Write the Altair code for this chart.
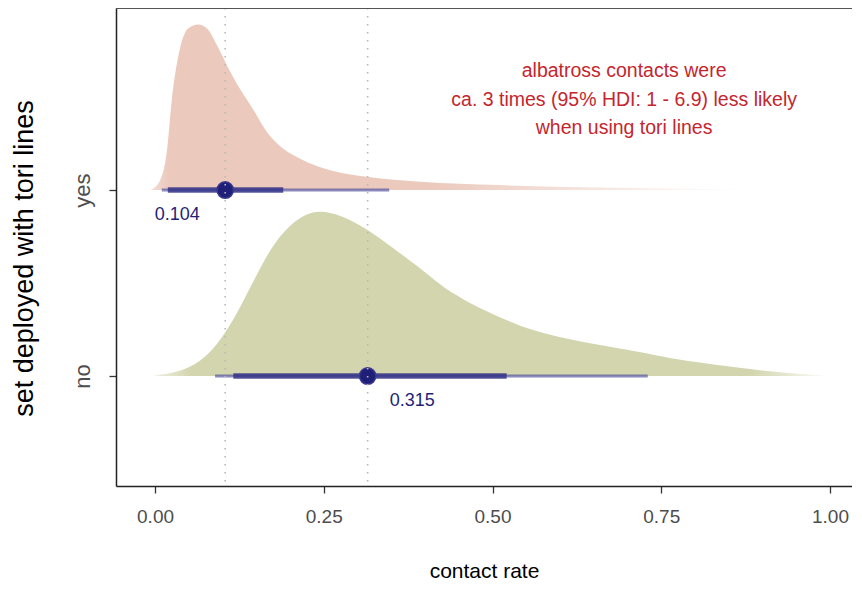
import altair as alt
import pandas as pd

# ---- data ----
groups = ["no", "yes"]
group_pos = [1, 2]

yes_x = [-0.007, 0.007, 0.018, 0.025, 0.037, 0.049, 0.064, 0.077, 0.092, 0.107, 0.126,
         0.145, 0.166, 0.19, 0.215, 0.264, 0.314, 0.393, 0.511, 0.659, 0.807, 0.907]
yes_d = [0, 0.055, 0.25, 0.55, 0.855, 0.976, 1.0, 0.976, 0.873, 0.75, 0.61,
         0.49, 0.35, 0.25, 0.19, 0.115, 0.08, 0.05, 0.03, 0.015, 0.007, 0]

no_x = [-0.007, 0.041, 0.077, 0.104, 0.126, 0.151, 0.175, 0.2, 0.225, 0.244, 0.274, 0.314,
        0.353, 0.393, 0.422, 0.456, 0.501, 0.56, 0.634, 0.723, 0.767, 0.856, 0.93, 1.004]
no_d = [0, 0.024, 0.114, 0.257, 0.413, 0.617, 0.796, 0.916, 0.982, 1.0, 0.976, 0.892,
        0.772, 0.653, 0.550, 0.462, 0.372, 0.268, 0.204, 0.144, 0.102, 0.054, 0.018, 0]

# point intervals (order: no, yes)
point_est = [0.315, 0.104]
lo95 = [0.089, 0.010]
hi95 = [0.730, 0.347]
lo66 = [0.116, 0.019]
hi66 = [0.521, 0.190]
point_labels = ["0.315", "0.104"]
label_x = [0.381, 0.033]

ref_lines = [0.104, 0.315]
note_lines = ["albatross contacts were",
              "ca. 3 times (95% HDI: 1 - 6.9) less likely",
              "when using tori lines"]

SCALE = 0.89
W, H = 736, 478
XDOM = [-0.0578, 1.0326]
YDOM = [0.409, 2.979]

yes_df = pd.DataFrame({"x": yes_x, "base": 2.0,
                       "top": [2 + d * SCALE for d in yes_d]})
no_df = pd.DataFrame({"x": no_x, "base": 1.0,
                      "top": [1 + d * SCALE for d in no_d]})
iv_df = pd.DataFrame({"group": groups, "pos": group_pos, "est": point_est,
                      "lo95": lo95, "hi95": hi95, "lo66": lo66, "hi66": hi66,
                      "lab": point_labels, "lab_x": label_x})
ref_df = pd.DataFrame({"x": ref_lines})
note_df = pd.DataFrame({"x": [0.695], "y": [2.640], "t": [note_lines]})

xscale = alt.Scale(domain=XDOM, nice=False, zero=False)
yscale = alt.Scale(domain=YDOM, nice=False, zero=False)

x_axis = alt.Axis(values=[0, 0.25, 0.5, 0.75, 1.0], format=".2f", grid=False,
                  title="contact rate", labelFont="Liberation Sans Narrow, Liberation Sans",
                  labelFontSize=19, labelColor="#4d4d4d", labelPadding=14,
                  tickSize=7, tickColor="#333333", tickWidth=1.3,
                  domainColor="#222222", domainWidth=1.5,
                  titleFont="Liberation Sans Narrow, Liberation Sans", titleFontSize=21,
                  titleFontWeight="normal", titleColor="#000000",
                  titleY=85, titleBaseline="middle")
y_axis = alt.Axis(values=[1, 2], labelExpr="datum.value == 2 ? 'yes' : 'no'",
                  grid=False, title="set deployed with tori lines",
                  labelFont="Liberation Sans", labelFontSize=22, labelColor="#4d4d4d",
                  labelAngle=270, labelAlign="center", labelBaseline="bottom",
                  labelPadding=15, tickSize=7, tickColor="#333333", tickWidth=1.3,
                  domainColor="#222222", domainWidth=1.5,
                  titleFont="Liberation Sans", titleFontSize=27, titleFontWeight="normal",
                  titleColor="#000000", titleAngle=270, titleAlign="center",
                  titleBaseline="middle", titleX=-92, titleY=250)

yes_grad = alt.Gradient(gradient="linear", x1=0, x2=1, y1=0, y2=0,
                        stops=[alt.GradientStop(offset=0, color="#f3ddd5"),
                               alt.GradientStop(offset=0.03, color="#ebc9bd"),
                               alt.GradientStop(offset=0.45, color="#ebc9bd"),
                               alt.GradientStop(offset=0.85, color="#fbf3f1"),
                               alt.GradientStop(offset=1, color="#ffffff")])
no_grad = alt.Gradient(gradient="linear", x1=0, x2=1, y1=0, y2=0,
                       stops=[alt.GradientStop(offset=0, color="#f1f2e6"),
                              alt.GradientStop(offset=0.06, color="#d3d5ae"),
                              alt.GradientStop(offset=0.88, color="#d3d5ae"),
                              alt.GradientStop(offset=1, color="#ffffff")])

yes_area = alt.Chart(yes_df).mark_area(interpolate="monotone", color=yes_grad).encode(
    x=alt.X("x:Q", scale=xscale, axis=x_axis),
    y=alt.Y("top:Q", scale=yscale, axis=y_axis),
    y2="base:Q")
no_area = alt.Chart(no_df).mark_area(interpolate="basis", color=no_grad).encode(
    x=alt.X("x:Q", scale=xscale),
    y=alt.Y("top:Q", scale=yscale),
    y2="base:Q")

base_iv = alt.Chart(iv_df)
thin = base_iv.mark_rule(color="#4b4b9c", opacity=0.65, strokeWidth=3).encode(
    x=alt.X("lo95:Q", scale=xscale), x2="hi95:Q", y=alt.Y("pos:Q", scale=yscale))
thick = base_iv.mark_rule(color="#2e2e86", opacity=0.8, strokeWidth=5.5).encode(
    x=alt.X("lo66:Q", scale=xscale), x2="hi66:Q", y=alt.Y("pos:Q", scale=yscale))
pts = base_iv.mark_point(filled=True, shape="circle", size=270, color="#1f1f78",
                         opacity=1, stroke="#3a3a90", strokeWidth=1.5).encode(
    x=alt.X("est:Q", scale=xscale), y=alt.Y("pos:Q", scale=yscale))
labs = base_iv.mark_text(font="Liberation Sans", fontSize=18, color="#1f1f78",
                         dy=25).encode(
    x=alt.X("lab_x:Q", scale=xscale), y=alt.Y("pos:Q", scale=yscale), text="lab:N")

refs = alt.Chart(ref_df).mark_rule(color="#b8b8b8", strokeWidth=1.6,
                                   strokeDash=[1.6, 6.4]).encode(
    x=alt.X("x:Q", scale=xscale))

note = alt.Chart(note_df).mark_text(font="Liberation Sans", fontSize=19.5, color="#c4262e",
                                    lineHeight=28.5, align="center",
                                    baseline="middle").encode(
    x=alt.X("x:Q", scale=xscale), y=alt.Y("y:Q", scale=yscale), text="t")

top_border = alt.Chart(pd.DataFrame({"a": [0]})).mark_rule(
    color="#555555", strokeWidth=1.8).encode(y=alt.value(0), x=alt.value(0), x2=alt.value(W))

chart = alt.layer(yes_area, no_area, thin, thick, pts, refs, labs, note, top_border).properties(
    width=W, height=H,
    autosize=alt.AutoSizeParams(type="none"),
    padding={"left": 108, "top": 0, "right": 0, "bottom": 96},
).configure_view(stroke=None).configure(background="white")

chart.save("out.html", embed_options={"renderer": "svg", "actions": False})
